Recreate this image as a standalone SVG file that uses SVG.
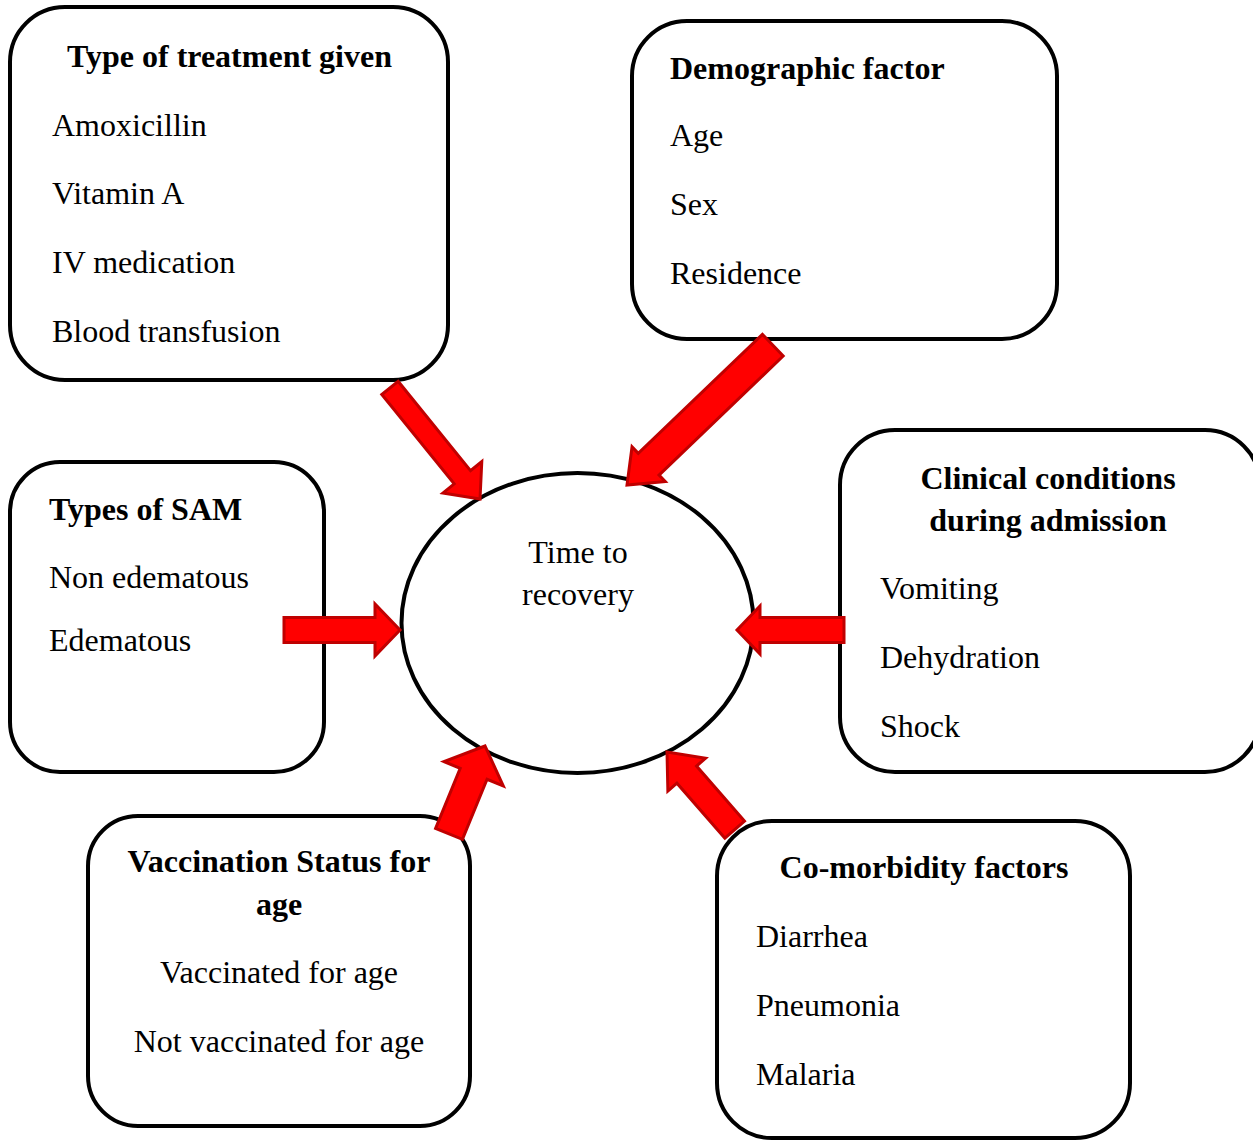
<svg xmlns="http://www.w3.org/2000/svg" width="1253" height="1141" viewBox="0 0 1253 1141">
<style>
.box{fill:#fff;stroke:#000;stroke-width:4}
.t{font-family:"Liberation Serif","Times New Roman",serif;font-size:32px;fill:#000}
.b{font-weight:bold}
.c{text-anchor:middle}
.arr{fill:#ff0000;stroke:#c00000;stroke-width:3;stroke-linejoin:miter}
</style>
<rect width="1253" height="1141" fill="#fff"/>
<g id="treatment">
<rect class="box" x="10" y="7" width="438" height="373" rx="55"/>
<text class="t b" x="67" y="67">Type of treatment given</text>
<text class="t" x="52" y="136">Amoxicillin</text>
<text class="t" x="52" y="204">Vitamin A</text>
<text class="t" x="52" y="273">IV medication</text>
<text class="t" x="52" y="342">Blood transfusion</text>
</g>
<g id="demographic">
<rect class="box" x="632" y="21" width="425" height="318" rx="55"/>
<text class="t b" x="670" y="79">Demographic factor</text>
<text class="t" x="670" y="146">Age</text>
<text class="t" x="670" y="215">Sex</text>
<text class="t" x="670" y="284">Residence</text>
</g>
<g id="sam">
<rect class="box" x="10" y="462" width="314" height="310" rx="50"/>
<text class="t b" x="49" y="520">Types of SAM</text>
<text class="t" x="49" y="588">Non edematous</text>
<text class="t" x="49" y="651">Edematous</text>
</g>
<g id="clinical">
<rect class="box" x="840" y="430" width="420" height="342" rx="55"/>
<text class="t b c" x="1048" y="489">Clinical conditions</text>
<text class="t b c" x="1048" y="531">during admission</text>
<text class="t" x="880" y="599">Vomiting</text>
<text class="t" x="880" y="668">Dehydration</text>
<text class="t" x="880" y="737">Shock</text>
</g>
<g id="vaccination">
<rect class="box" x="88" y="816" width="382" height="310" rx="50"/>
<text class="t b c" x="279" y="872">Vaccination Status for</text>
<text class="t b c" x="279" y="915">age</text>
<text class="t c" x="279" y="983">Vaccinated for age</text>
<text class="t c" x="279" y="1052">Not vaccinated for age</text>
</g>
<g id="comorbidity">
<rect class="box" x="717" y="821" width="413" height="317" rx="55"/>
<text class="t b c" x="924" y="878">Co-morbidity factors</text>
<text class="t" x="756" y="947">Diarrhea</text>
<text class="t" x="756" y="1016">Pneumonia</text>
<text class="t" x="756" y="1085">Malaria</text>
</g>
<g id="recovery">
<ellipse cx="577.5" cy="623" rx="176" ry="150" fill="#fff" stroke="#000" stroke-width="4"/>
<text class="t c" x="578" y="563">Time to</text>
<text class="t c" x="578" y="605">recovery</text>
</g>
<g id="connectors">
<path class="arr" transform="translate(480,499) rotate(50.97)" d="M-143,-10.5 L-28,-10.5 L-28,-25 L0,0 L-28,25 L-28,10.5 L-143,10.5 Z"/>
<path class="arr" transform="translate(627,485) rotate(136.2)" d="M-202,-15 L-30,-15 L-30,-24 L0,0 L-30,24 L-30,15 L-202,15 Z"/>
<path class="arr" transform="translate(400,630) rotate(0)" d="M-116,-12.5 L-25,-12.5 L-25,-26 L0,0 L-25,26 L-25,12.5 L-116,12.5 Z"/>
<path class="arr" transform="translate(737,630) rotate(180)" d="M-107,-12.5 L-23,-12.5 L-23,-24 L0,0 L-23,24 L-23,12.5 L-107,12.5 Z"/>
<path class="arr" transform="translate(485,746) rotate(-67.75)" d="M-95,-14.5 L-30,-14.5 L-30,-32 L0,0 L-30,32 L-30,14.5 L-95,14.5 Z"/>
<path class="arr" transform="translate(667,752) rotate(-131.1)" d="M-103,-13 L-30,-13 L-30,-25 L0,0 L-30,25 L-30,13 L-103,13 Z"/>
</g>
</svg>
